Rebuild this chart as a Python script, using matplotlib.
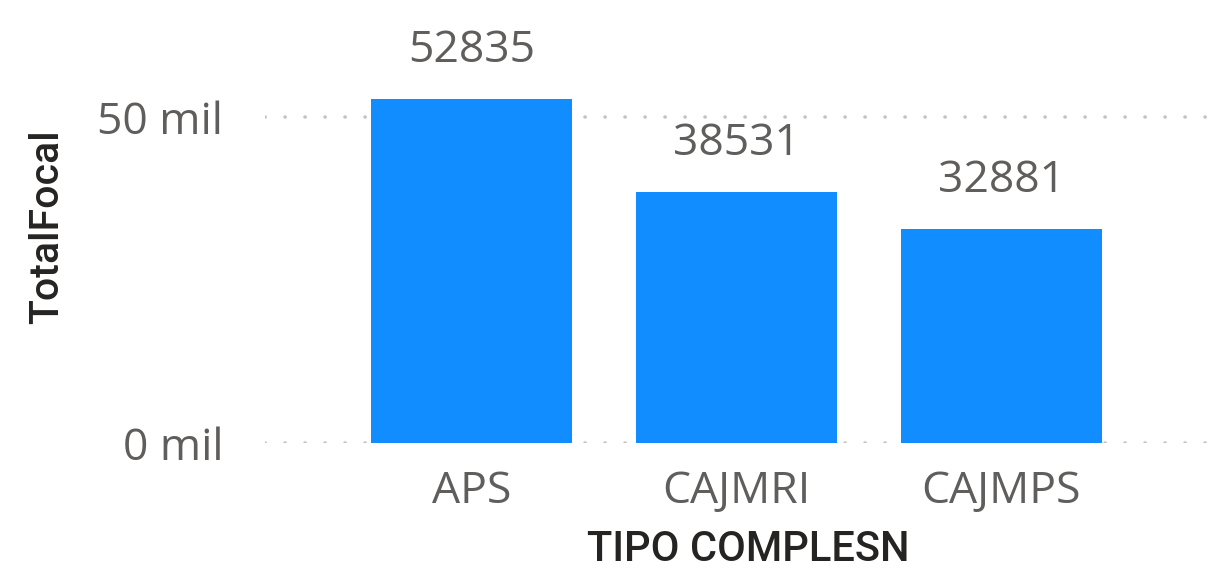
import matplotlib
matplotlib.use("Agg")
import matplotlib.pyplot as plt
from matplotlib.ticker import FixedLocator, FuncFormatter

categories = ["APS", "CAJMRI", "CAJMPS"]
values = [52835, 38531, 32881]
y_ticks = [0, 50000]
x_title = "TIPO COMPLESN"
y_title = "TotalFocal"

W, H = 1210, 570
fig = plt.figure(figsize=(W / 100, H / 100), dpi=100)
# axes in pixel coords
left_px, right_px, bottom_px_from_top, top_px = 265, 1210, 443, 0
ax = fig.add_axes([left_px / W, (H - bottom_px_from_top) / H,
                   (right_px - left_px) / W, (bottom_px_from_top - top_px) / H])

spacing = 265.0
x = list(range(len(categories)))
ax.bar(x, values, width=201 / spacing, color="#118DFF", zorder=3)

ax.set_xlim(-(471.5 - left_px) / spacing, (right_px - 471.5) / spacing)
px_per_unit = (443 - 117.3) / 50000
ax.set_ylim(0, (bottom_px_from_top - top_px) / px_per_unit)

for s in ax.spines.values():
    s.set_visible(False)

ax.yaxis.set_major_locator(FixedLocator(y_ticks))
ax.yaxis.set_major_formatter(FuncFormatter(lambda v, p: f"{int(v/1000)} mil"))
ax.set_xticks(x)
ax.set_xticklabels(categories)

for lab in ax.get_yticklabels() + ax.get_xticklabels():
    lab.set_fontfamily(["Open Sans", "DejaVu Sans"])
    lab.set_fontsize(32)
    lab.set_color("#605E5C")
ax.tick_params(axis="both", length=0)
ax.tick_params(axis="y", pad=30)
ax.tick_params(axis="x", pad=19)

lw = 2.6
ax.grid(axis="y", color="#C4C4C4", linewidth=lw,
        linestyle=(0, (0.05, 14.4 / lw - 0.05)), zorder=1)
ax.grid(axis="x", visible=False)
for gl in ax.get_ygridlines():
    gl.set_dash_capstyle("round")
ax.set_axisbelow(True)

for xi, v in zip(x, values):
    ax.annotate(str(v), (xi, v), xytext=(0, 26.5), textcoords="offset points",
                ha="center", va="baseline", fontsize=32,
                family=["Open Sans", "DejaVu Sans"], color="#605E5C")

fig.text(748 / W, 1 - 561 / H, x_title, ha="center", va="baseline",
         fontsize=30, family=["Roboto", "DejaVu Sans"], fontweight="medium",
         color="#252423")
fig.text(47 / W, 1 - 227 / H, y_title, ha="center", va="center", rotation=90,
         fontsize=29.5, family=["Roboto", "DejaVu Sans"], fontweight="medium",
         color="#252423")

fig.savefig("out.png", dpi=100, facecolor="white")
